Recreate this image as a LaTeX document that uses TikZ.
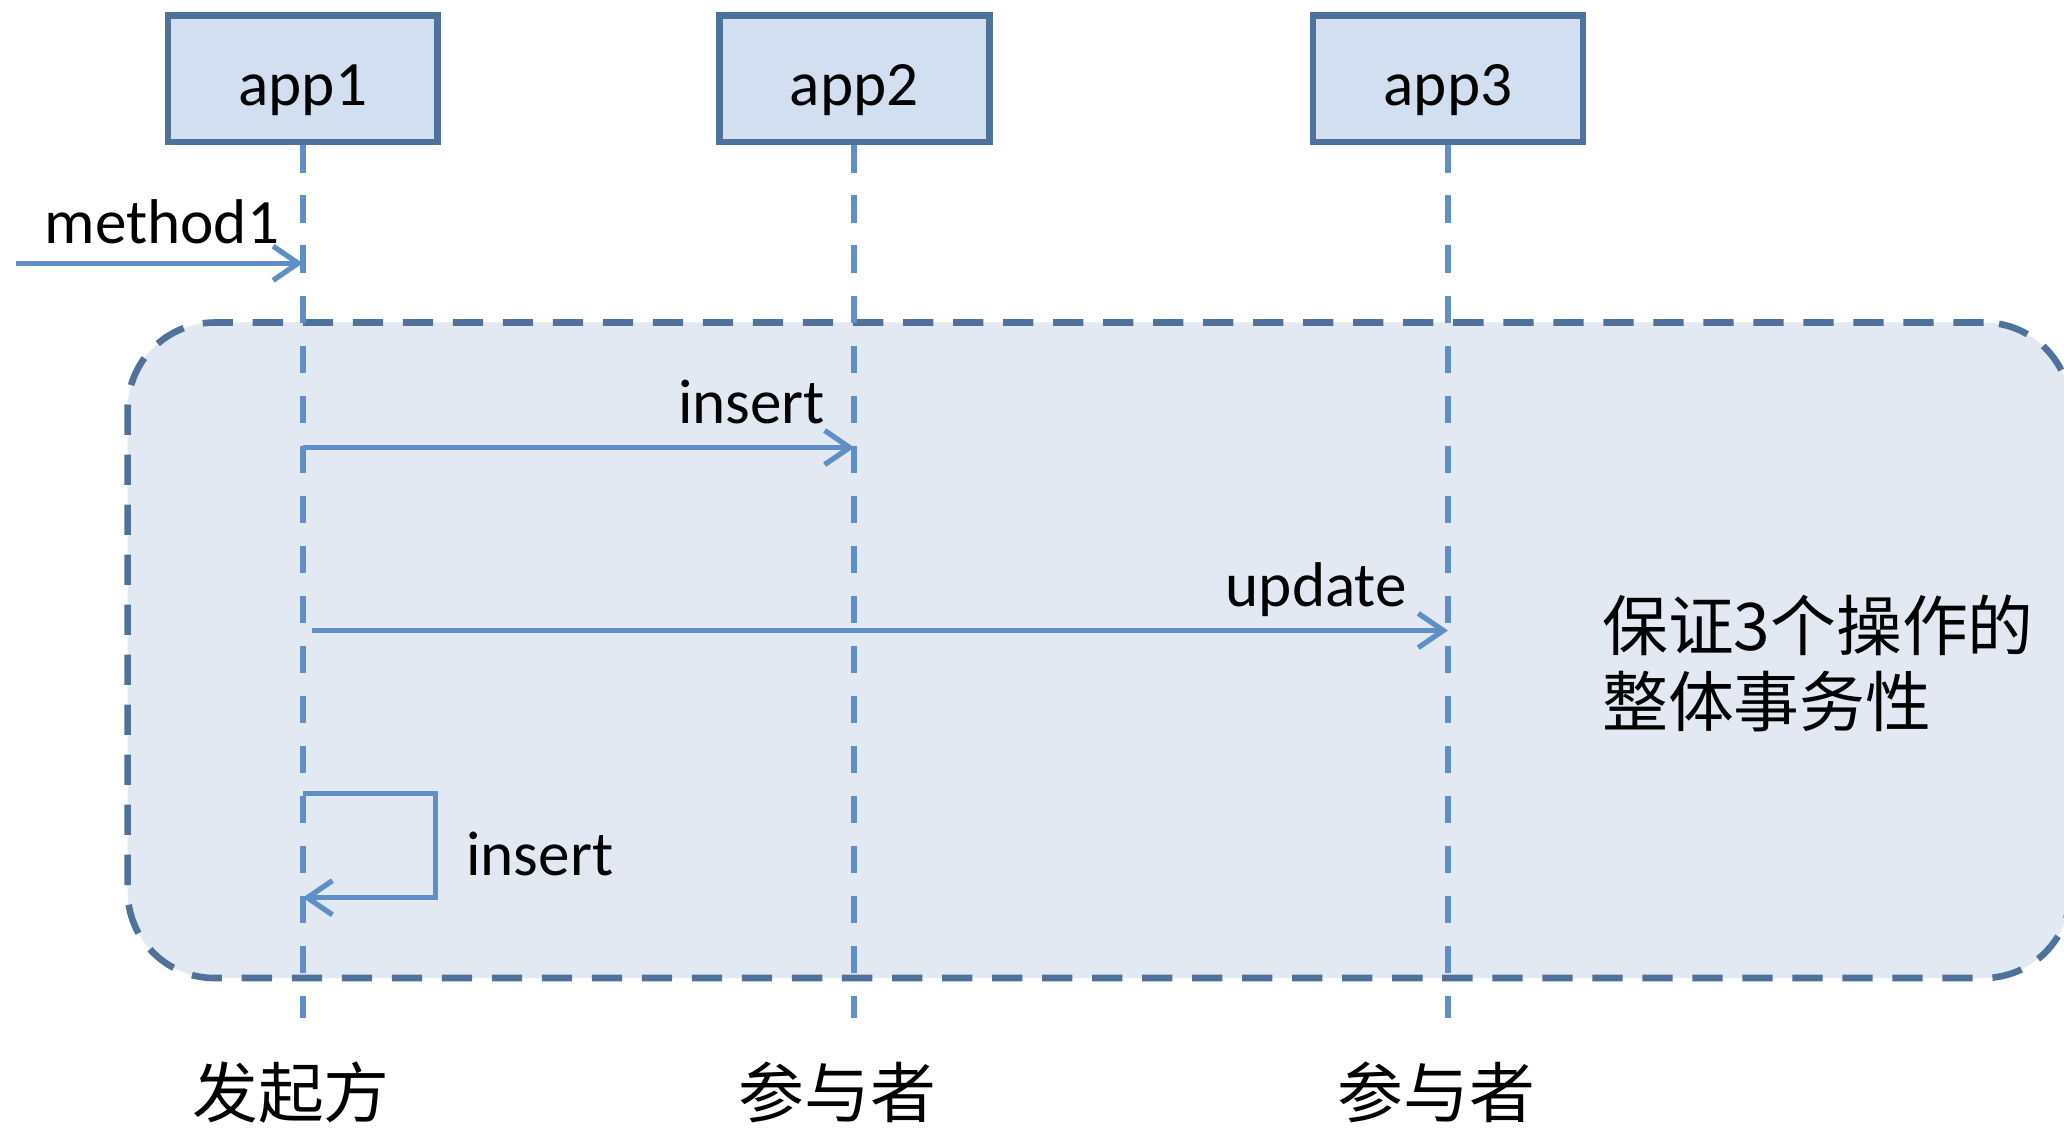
\documentclass[tikz,border=0pt]{standalone}
\usepackage{fontspec}
\setmainfont{Carlito}
\newfontfamily\cjk{Noto Sans CJK SC}
\usetikzlibrary{arrows.meta}
\definecolor{boxfill}{RGB}{209,223,240}
\definecolor{boxline}{RGB}{79,114,155}
\definecolor{msgline}{RGB}{96,143,200}
\definecolor{txfill}{RGB}{226,233,243}

\begin{document}
\begin{tikzpicture}[x=1pt,y=-1pt,
    app/.style={draw=boxline,fill=boxfill,line width=5pt,minimum width=205pt,minimum height=96pt,text height=40pt,text depth=0pt},
    life/.style={msgline,line width=4.5pt,dash pattern=on 21pt off 17pt},
    msg/.style={msgline,line width=4pt,-{Straight Barb[length=19pt,width=26pt]}},
    role/.style={font=\cjk\fontsize{50}{58}\selectfont}]
            \tikzstyle{every node}+=[inner sep=0pt,font=\fontsize{48}{58}\selectfont]
            \useasboundingbox (0,0) rectangle (1568,858);
            \node [draw=boxline,fill=txfill,line width=5pt,dash pattern=on 23pt off 15pt,rounded corners=66pt,minimum width=1476pt,minimum height=498pt] (tx) at (835,494) {};
            \node [app] (app1) at (230,60) {app1};
            \node [app] (app2) at (649,60) {app2};
            \node [app] (app3) at (1100,60) {app3};
            \coordinate (end1) at (230,773);
            \coordinate (end2) at (649,773);
            \coordinate (end3) at (1100,773);
            \draw [life] (app1.south) -- (end1);
            \draw [life] (app2.south) -- (end2);
            \draw [life] (app3.south) -- (end3);
            \coordinate (m0) at (12,200);
            \draw [msg] (m0) -- (m0 -| app1);
            \node [anchor=base] (lm0) at (123,185) {method1};
            \coordinate (s1) at (230,340);
            \draw [msg] (s1) -- (s1 -| app2);
            \node [anchor=base east] (ls1) at (627,322) {insert};
            \coordinate (s2) at (237,479);
            \draw [msg] (s2) -- (s2 -| app3);
            \node [anchor=base east] (ls2) at (1069,461) {update};
            \coordinate (s3) at (230,603);
            \coordinate (s4) at (230,682);
            \draw [msg] (s3) -| ++(101,79) -- (s4);
            \node [anchor=base west] (ls3) at (354,665) {insert};
            \node [role,anchor=west,align=left] (note) at (1217,504) {保证3个操作的\\整体事务性};
            \node [role] (role1) at (221,830) {发起方};
            \node [role] (role2) at (636,830) {参与者};
            \node [role] (role3) at (1091,830) {参与者};
        \end{tikzpicture}
\end{document}
